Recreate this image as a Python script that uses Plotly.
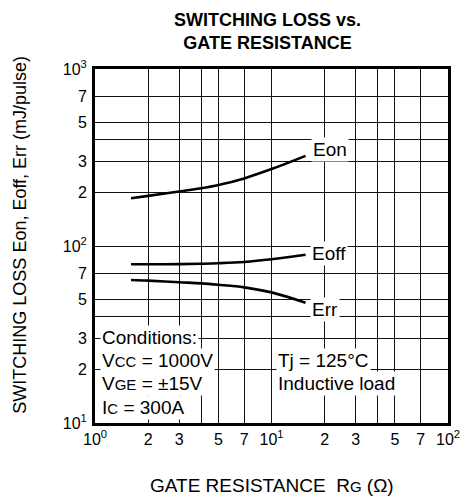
import plotly.graph_objects as go

# ---- data ----
rg = [1.6, 2, 3, 4, 5, 7, 10, 15.6]
e_on = [186, 192, 203, 212, 221, 241, 272, 323]
e_off = [78.8, 78.8, 79.0, 79.4, 79.9, 81.2, 84.1, 89.3]
e_rr = [64.2, 63.7, 62.4, 61.5, 60.4, 58.4, 54.7, 47.8]

x_tickvals = [1, 2, 3, 4, 5, 7, 10, 20, 30, 40, 50, 70, 100]
x_ticktext = ["10<sup>0</sup>", "2", "3", "", "5", "7", "10<sup>1</sup>",
              "2", "3", "", "5", "7", "10<sup>2</sup>"]
y_tickvals = [10, 20, 30, 40, 50, 70, 100, 200, 300, 400, 500, 700, 1000]
y_ticktext = ["10<sup>1</sup>", "2", "3", "", "5", "7", "10<sup>2</sup>",
              "2", "3", "", "5", "7", "10<sup>3</sup>"]

FONT = "Liberation Sans, Arial, Helvetica, sans-serif"
OFF = 8  # default page body margin
PW, PH = 472, 497  # page window
W, H = PW - OFF, PH - OFF
# plot area in page pixels
L, R, T, B = 95, 451, 69, 423


def fx(px):
    return (px - L) / (R - L)


def fy(py):
    return (B - py) / (B - T)


def sc(t, size=15):
    return f"<span style='font-size:{size}px'>{t}</span>"


fig = go.Figure()
for ys in (e_on, e_off, e_rr):
    fig.add_trace(go.Scatter(x=rg, y=ys, mode="lines",
                             line=dict(color="black", width=2.6, shape="spline", smoothing=1.0),
                             showlegend=False, hoverinfo="skip"))

ann = []


def add(text, x, y, size=19, xanchor="left", bg="white", **kw):
    ann.append(dict(text=text, x=fx(x), y=fy(y), xref="paper", yref="paper",
                    xanchor=xanchor, yanchor="middle", showarrow=False,
                    font=dict(family=FONT, size=size, color="black"),
                    bgcolor=bg, borderpad=1, **kw))


add("Eon", 313, 149)
add("Eoff", 312, 253)
add("Err", 312, 309)
add("Conditions:", 100, 337)
add("V" + sc("CC") + " = 1000V", 100, 360)
add("V" + sc("GE") + " = ±15V", 100, 383)
add("I" + sc("C") + " = 300A", 100, 407)
add("Tj = 125°C", 278, 360)
add("Inductive load", 278, 383)

# title
add("<b>SWITCHING LOSS vs.<br>GATE RESISTANCE</b>", 268.5, 31.5, size=18,
    xanchor="center", bg="rgba(0,0,0,0)")
# axis titles
add("SWITCHING LOSS Eon, Eoff, Err (mJ/pulse)", 19, 235, size=18,
    xanchor="center", bg="rgba(0,0,0,0)", textangle=-90)
add("GATE RESISTANCE\u00a0\u00a0R" + sc("G", 15) + " (Ω)", 273.5, 485, size=19,
    xanchor="center", bg="rgba(0,0,0,0)")

axis_common = dict(showline=True, mirror=True, linewidth=3, linecolor="black",
                   showgrid=True, gridcolor="#111", gridwidth=1.2,
                   ticks="", tickfont=dict(family=FONT, size=16, color="black"),
                   zeroline=False, tickmode="array")

fig.update_layout(
    width=W, height=H, autosize=False,
    margin=dict(l=L - OFF, r=PW - R, t=T - OFF, b=PH - B, pad=0),
    paper_bgcolor="white", plot_bgcolor="white",
    font=dict(family=FONT, color="black"),
    xaxis=dict(type="log", range=[0, 2], tickvals=x_tickvals, ticktext=x_ticktext,
               ticklabelstandoff=0, **axis_common),
    yaxis=dict(type="log", range=[1, 3], tickvals=y_tickvals, ticktext=y_ticktext,
               ticklabelstandoff=2, **axis_common),
    annotations=ann,
)

fig.write_html("out.html")
